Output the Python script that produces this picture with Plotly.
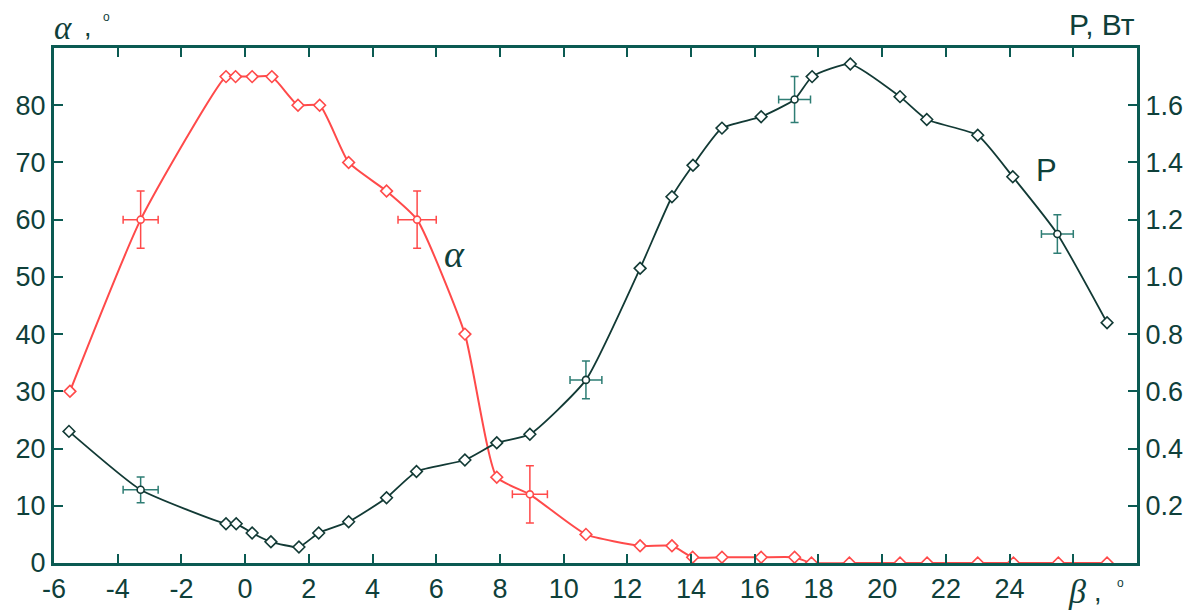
import plotly.graph_objects as go

# ---- data ----
beta_alpha = [-5.5, -3.28, -0.6, -0.3, 0.22, 0.84, 1.66, 2.34, 3.25, 4.44, 5.4, 6.9, 7.9, 8.94,
              10.7, 12.4, 13.4, 14.05, 14.97, 16.2, 17.25, 17.78, 18.97, 20.56, 21.41, 23.0,
              24.12, 25.53, 27.06]
alpha_vals = [30, 60, 85, 85, 85, 85, 80, 80, 70, 65, 60, 40, 15, 12,
              5, 3, 3, 1, 1, 1, 1, 0, 0, 0, 0, 0,
              0, 0, 0]

beta_p = [-5.53, -3.28, -0.6, -0.28, 0.22, 0.81, 1.69, 2.31, 3.25, 4.44, 5.38, 6.9, 7.9, 8.94,
          10.7, 12.4, 13.4, 14.06, 14.97, 16.2, 17.25, 17.8, 19.0, 20.56, 21.4, 23.0,
          24.1, 25.5, 27.06]
p_vals = [0.46, 0.256, 0.137, 0.137, 0.105, 0.074, 0.056, 0.105, 0.144, 0.228, 0.32, 0.36, 0.42, 0.45,
          0.64, 1.03, 1.28, 1.39, 1.52, 1.56, 1.62, 1.70, 1.744, 1.63, 1.55, 1.495,
          1.35, 1.15, 0.84]

# error-bar points
alpha_err_beta = [-3.28, 5.4, 8.94]
alpha_err_vals = [60, 60, 12]
alpha_err_dy = [5, 5, 5]
alpha_err_dx = [0.55, 0.6, 0.55]

p_err_beta = [-3.28, 10.7, 17.25, 25.5]
p_err_vals = [0.256, 0.64, 1.62, 1.15]
p_err_dy = [0.045, 0.066, 0.08, 0.067]
p_err_dx = [0.55, 0.5, 0.5, 0.5]

x_ticks = list(range(-6, 27, 2))
x_tick_text = ["-6", "-4", "-2", "0", "2", "4", "6", "8", "10", "12", "14", "16", "18",
               "20", "22", "24", ""]
y_ticks = list(range(0, 81, 10))
y2_ticks = [0.2, 0.4, 0.6, 0.8, 1.0, 1.2, 1.4, 1.6]
y2_text = ["0.2", "0.4", "0.6", "0.8", "1.0", "1.2", "1.4", "1.6"]

RED = "#ff4a4a"
DARK = "#123a35"
AXIS = "#0b5a52"
TEXT = "#0f403a"
ERRP = "#2e7d74"

# page body has an 8px margin: figure is placed at (8, 8)
OFF = 8
W, H = 1200 - OFF, 612 - OFF
ML, MR, MT, MB = 54 - OFF, 63, 48 - OFF, 49

fig = go.Figure()

# alpha series
fig.add_trace(go.Scatter(x=beta_alpha, y=alpha_vals, mode="lines",
                         line=dict(color=RED, width=2, shape="spline", smoothing=0.5),
                         showlegend=False, hoverinfo="skip"))
mask_a = [b not in alpha_err_beta for b in beta_alpha]
fig.add_trace(go.Scatter(x=[b for b, m in zip(beta_alpha, mask_a) if m],
                         y=[a for a, m in zip(alpha_vals, mask_a) if m],
                         mode="markers",
                         marker=dict(symbol="diamond", size=9, color="white",
                                     line=dict(color=RED, width=1.6)),
                         showlegend=False))
fig.add_trace(go.Scatter(x=alpha_err_beta, y=alpha_err_vals, mode="markers",
                         marker=dict(symbol="circle", size=7, color="white",
                                     line=dict(color=RED, width=1.6)),
                         error_y=dict(type="data", array=alpha_err_dy, color=RED, thickness=1.5, width=4),
                         error_x=dict(type="data", array=alpha_err_dx, color=RED, thickness=1.5, width=4),
                         showlegend=False))

# P series
fig.add_trace(go.Scatter(x=beta_p, y=p_vals, mode="lines", yaxis="y2",
                         line=dict(color=DARK, width=1.8, shape="spline", smoothing=0.5),
                         showlegend=False, hoverinfo="skip"))
mask_p = [b not in p_err_beta for b in beta_p]
fig.add_trace(go.Scatter(x=[b for b, m in zip(beta_p, mask_p) if m],
                         y=[p for p, m in zip(p_vals, mask_p) if m],
                         mode="markers", yaxis="y2",
                         marker=dict(symbol="diamond", size=9, color="white",
                                     line=dict(color=DARK, width=1.6)),
                         showlegend=False))
fig.add_trace(go.Scatter(x=p_err_beta, y=p_err_vals, mode="markers", yaxis="y2",
                         marker=dict(symbol="circle", size=7, color="white",
                                     line=dict(color=DARK, width=1.6)),
                         error_y=dict(type="data", array=p_err_dy, color=ERRP, thickness=1.5, width=4),
                         error_x=dict(type="data", array=p_err_dx, color=ERRP, thickness=1.5, width=4),
                         showlegend=False))

tickfont = dict(family="Liberation Sans, Arial, sans-serif", size=27, color=TEXT)

fig.update_layout(
    width=W, height=H,
    margin=dict(l=ML, r=MR, t=MT, b=MB, autoexpand=False),
    paper_bgcolor="white", plot_bgcolor="white",
    xaxis=dict(range=[-6, 28], tickvals=x_ticks, ticktext=x_tick_text,
               ticks="inside", ticklen=9, tickwidth=2, tickcolor=AXIS,
               showline=True, linecolor=AXIS, linewidth=3, mirror="ticks",
               showgrid=False, zeroline=False, tickfont=tickfont, automargin=False),
    yaxis=dict(range=[0, 90], tickvals=y_ticks, ticks="inside", ticklen=9, tickwidth=2,
               tickcolor=AXIS, showline=True, linecolor=AXIS, linewidth=3,
               showgrid=False, zeroline=False, tickfont=tickfont, automargin=False),
    yaxis2=dict(range=[0, 1.8], tickvals=y2_ticks, ticktext=y2_text, overlaying="y", side="right",
                ticks="inside", ticklen=9, tickwidth=2, tickcolor=AXIS,
                showline=True, linecolor=AXIS, linewidth=3,
                showgrid=False, zeroline=False, tickfont=tickfont, automargin=False),
)

serif_it = "Liberation Serif, Times New Roman, serif"
PW = W - ML - MR
PH = H - MT - MB


def px_to_paper(px, py):
    # px, py: screen pixels in the 1200x612 window
    return (px - OFF - ML) / PW, (H - (py - OFF) - MB) / PH


ann = [
    # axis titles (screen-pixel anchors)
    dict(px=52, py=28, text="<i>α</i>&nbsp;", font=dict(family=serif_it, size=33, color=TEXT), xanchor="left"),
    dict(px=82, py=27, text=",", font=dict(family="Liberation Sans", size=27, color=TEXT), xanchor="left"),
    dict(px=101, py=17, text="o", font=dict(family="Liberation Sans", size=12, color=TEXT), xanchor="left"),
    dict(px=1137, py=24, text="P, Вт", font=dict(family="Liberation Sans", size=30, color=TEXT), xanchor="right"),
    dict(px=1066, py=592, text="<i>β</i>&nbsp;", font=dict(family=serif_it, size=34, color=TEXT), xanchor="left"),
    dict(px=1092, py=592, text=",", font=dict(family="Liberation Sans", size=27, color=TEXT), xanchor="left"),
    dict(px=1115, py=583, text="o", font=dict(family="Liberation Sans", size=12, color=TEXT), xanchor="left"),
]
for a in ann:
    xp, yp = px_to_paper(a["px"], a["py"])
    fig.add_annotation(xref="paper", yref="paper", showarrow=False, yanchor="middle",
                       x=xp, y=yp, text=a["text"], font=a["font"], xanchor=a["xanchor"])

# curve labels
fig.add_annotation(x=6.56, y=54, xref="x", yref="y", text="<i>α</i>", showarrow=False,
                   font=dict(family=serif_it, size=38, color=TEXT))
fig.add_annotation(x=25.16, y=68.6, xref="x", yref="y", text="P", showarrow=False,
                   font=dict(family="Liberation Sans", size=31, color=TEXT))

fig.write_html("out.html")
